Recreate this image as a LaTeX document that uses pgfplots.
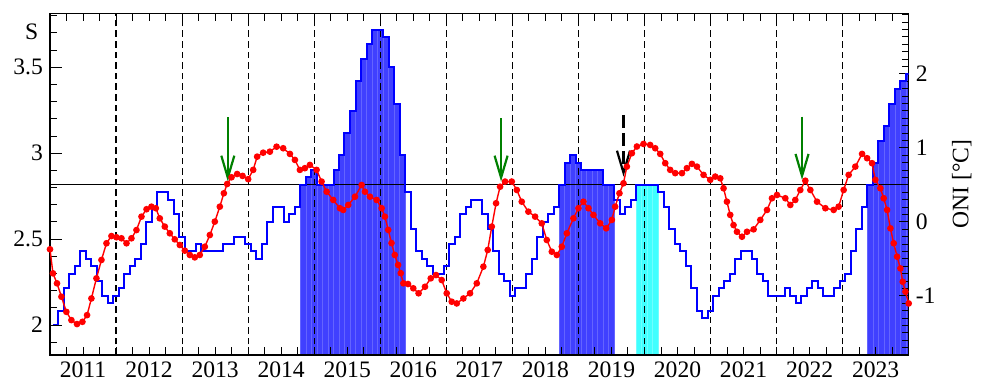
\documentclass[border=0pt]{standalone}
\usepackage{fontspec}
\setmainfont{Liberation Serif}
\usepackage{pgfplots}
\pgfplotsset{compat=1.18}
\usepackage{pgfplotstable}
\usetikzlibrary{arrows.meta}

\definecolor{barblue}{RGB}{64,64,255}
\definecolor{barstripe}{RGB}{100,100,255}
\definecolor{barcyan}{RGB}{64,255,255}
\definecolor{cyanstripe}{RGB}{110,255,255}
\definecolor{arrgreen}{RGB}{0,128,0}

\newcommand\ff{\fontsize{11.8}{13}\selectfont}

\pgfplotstableread{
x oni
2011.042 -1.4
2011.125 -1.2
2011.208 -0.9
2011.292 -0.7
2011.375 -0.6
2011.458 -0.4
2011.542 -0.5
2011.625 -0.6
2011.708 -0.8
2011.792 -1.0
2011.875 -1.1
2011.958 -1.0
2012.042 -0.9
2012.125 -0.7
2012.208 -0.6
2012.292 -0.5
2012.375 -0.3
2012.458 0.0
2012.542 0.2
2012.625 0.4
2012.708 0.4
2012.792 0.3
2012.875 0.1
2012.958 -0.2
2013.042 -0.4
2013.125 -0.4
2013.208 -0.3
2013.292 -0.4
2013.375 -0.4
2013.458 -0.4
2013.542 -0.4
2013.625 -0.3
2013.708 -0.3
2013.792 -0.2
2013.875 -0.2
2013.958 -0.3
2014.042 -0.4
2014.125 -0.5
2014.208 -0.3
2014.292 0.0
2014.375 0.2
2014.458 0.2
2014.542 0.0
2014.625 0.1
2014.708 0.2
2014.792 0.5
2014.875 0.6
2014.958 0.7
2015.042 0.5
2015.125 0.5
2015.208 0.5
2015.292 0.7
2015.375 0.9
2015.458 1.2
2015.542 1.5
2015.625 1.9
2015.708 2.2
2015.792 2.4
2015.875 2.6
2015.958 2.6
2016.042 2.5
2016.125 2.1
2016.208 1.6
2016.292 0.9
2016.375 0.4
2016.458 -0.1
2016.542 -0.4
2016.625 -0.5
2016.708 -0.6
2016.792 -0.7
2016.875 -0.7
2016.958 -0.6
2017.042 -0.3
2017.125 -0.2
2017.208 0.1
2017.292 0.2
2017.375 0.3
2017.458 0.3
2017.542 0.1
2017.625 -0.1
2017.708 -0.4
2017.792 -0.7
2017.875 -0.8
2017.958 -1.0
2018.042 -0.9
2018.125 -0.9
2018.208 -0.7
2018.292 -0.5
2018.375 -0.2
2018.458 0.0
2018.542 0.1
2018.625 0.2
2018.708 0.5
2018.792 0.8
2018.875 0.9
2018.958 0.8
2019.042 0.7
2019.125 0.7
2019.208 0.7
2019.292 0.7
2019.375 0.5
2019.458 0.5
2019.542 0.3
2019.625 0.1
2019.708 0.2
2019.792 0.3
2019.875 0.5
2019.958 0.5
2020.042 0.5
2020.125 0.5
2020.208 0.4
2020.292 0.2
2020.375 -0.1
2020.458 -0.3
2020.542 -0.4
2020.625 -0.6
2020.708 -0.9
2020.792 -1.2
2020.875 -1.3
2020.958 -1.2
2021.042 -1.0
2021.125 -0.9
2021.208 -0.8
2021.292 -0.7
2021.375 -0.5
2021.458 -0.4
2021.542 -0.4
2021.625 -0.5
2021.708 -0.7
2021.792 -0.8
2021.875 -1.0
2021.958 -1.0
2022.042 -1.0
2022.125 -0.9
2022.208 -1.0
2022.292 -1.1
2022.375 -1.0
2022.458 -0.9
2022.542 -0.8
2022.625 -0.9
2022.708 -1.0
2022.792 -1.0
2022.875 -0.9
2022.958 -0.8
2023.042 -0.7
2023.125 -0.4
2023.208 -0.1
2023.292 0.2
2023.375 0.5
2023.458 0.8
2023.542 1.1
2023.625 1.3
2023.708 1.6
2023.792 1.8
2023.875 1.9
2023.958 2.0
2024.042 2.0
}\onidata

\pgfplotstableread{
x s
2011.000 2.441
2011.045 2.301
2011.106 2.243
2011.173 2.165
2011.248 2.077
2011.324 2.029
2011.409 2.006
2011.491 2.019
2011.561 2.058
2011.627 2.155
2011.703 2.272
2011.779 2.379
2011.855 2.476
2011.930 2.518
2012.006 2.511
2012.082 2.505
2012.158 2.476
2012.233 2.505
2012.309 2.553
2012.385 2.631
2012.461 2.674
2012.536 2.689
2012.602 2.680
2012.662 2.621
2012.738 2.573
2012.814 2.534
2012.889 2.499
2012.965 2.466
2013.041 2.433
2013.117 2.408
2013.192 2.394
2013.268 2.408
2013.344 2.456
2013.420 2.524
2013.495 2.602
2013.571 2.689
2013.632 2.767
2013.682 2.821
2013.748 2.860
2013.833 2.879
2013.915 2.868
2014.000 2.849
2014.076 2.903
2014.136 2.980
2014.227 3.003
2014.329 3.009
2014.430 3.038
2014.530 3.029
2014.632 2.996
2014.708 2.961
2014.783 2.903
2014.859 2.913
2014.935 2.932
2015.036 2.903
2015.112 2.835
2015.188 2.776
2015.288 2.728
2015.389 2.680
2015.439 2.670
2015.515 2.699
2015.617 2.747
2015.718 2.815
2015.768 2.776
2015.844 2.747
2015.945 2.728
2016.021 2.680
2016.070 2.631
2016.120 2.554
2016.170 2.477
2016.220 2.408
2016.270 2.350
2016.310 2.302
2016.350 2.243
2016.420 2.239
2016.500 2.214
2016.580 2.185
2016.677 2.223
2016.764 2.272
2016.844 2.291
2016.930 2.262
2017.006 2.185
2017.082 2.136
2017.158 2.126
2017.258 2.155
2017.359 2.185
2017.461 2.243
2017.561 2.340
2017.627 2.437
2017.688 2.573
2017.753 2.709
2017.814 2.805
2017.889 2.835
2017.991 2.835
2018.067 2.786
2018.142 2.718
2018.242 2.660
2018.344 2.631
2018.445 2.592
2018.521 2.495
2018.597 2.427
2018.673 2.408
2018.748 2.456
2018.824 2.534
2018.924 2.621
2019.000 2.680
2019.076 2.718
2019.152 2.680
2019.227 2.641
2019.329 2.592
2019.420 2.563
2019.506 2.612
2019.556 2.689
2019.621 2.767
2019.682 2.825
2019.733 2.922
2019.809 3.000
2019.885 3.039
2019.985 3.054
2020.086 3.048
2020.162 3.029
2020.238 2.996
2020.314 2.942
2020.389 2.903
2020.465 2.884
2020.567 2.884
2020.642 2.913
2020.718 2.938
2020.794 2.922
2020.894 2.874
2020.995 2.845
2021.071 2.864
2021.147 2.854
2021.197 2.796
2021.248 2.718
2021.298 2.641
2021.348 2.582
2021.400 2.543
2021.476 2.514
2021.552 2.543
2021.652 2.557
2021.753 2.612
2021.855 2.670
2021.930 2.738
2022.006 2.757
2022.132 2.738
2022.208 2.699
2022.283 2.728
2022.359 2.786
2022.435 2.840
2022.511 2.786
2022.612 2.718
2022.738 2.680
2022.864 2.670
2022.939 2.689
2023.015 2.786
2023.091 2.874
2023.192 2.922
2023.294 2.996
2023.370 2.971
2023.445 2.942
2023.495 2.845
2023.571 2.796
2023.621 2.738
2023.673 2.670
2023.723 2.563
2023.773 2.476
2023.824 2.398
2023.874 2.330
2023.909 2.252
2023.950 2.194
2024.000 2.126
}\sdata

\pgfplotsset{
  base/.style={scale only axis, width=429.35pt, height=170.85pt,
    xmin=2011, xmax=2024},
  ticksty/.style={tick style={black, line width=0.5pt},
    axis line style={black, line width=0.7pt}},
}

\begin{document}
\begin{tikzpicture}
% El Nino bars (shifted so the bar base is the axis bottom)
\begin{axis}[base, ymin=0, ymax=4.62, hide axis]
\addplot[ybar interval, fill=barblue, draw=barstripe, line width=0.4pt,
  restrict x to domain=2014.75:2016.4]
  table[x=x, y expr=\thisrow{oni}+1.80] \onidata;
\addplot[ybar interval, fill=barblue, draw=barstripe, line width=0.4pt,
  restrict x to domain=2018.7:2019.55]
  table[x=x, y expr=\thisrow{oni}+1.80] \onidata;
\addplot[ybar interval, fill=barblue, draw=barstripe, line width=0.4pt,
  restrict x to domain=2023.35:2024.1]
  table[x=x, y expr=\thisrow{oni}+1.80] \onidata;
\addplot[ybar interval, fill=barcyan, draw=cyanstripe, line width=0.4pt,
  restrict x to domain=2019.85:2020.25]
  table[x=x, y expr=\thisrow{oni}+1.80] \onidata;
\end{axis}

% frame, x ticks, dashed year lines, threshold
\begin{axis}[base, name=ax, ymin=-1.80, ymax=2.82, ytick=\empty, ticksty,
  xtick={2011.5,2012.5,...,2023.5},
  xticklabels={2011,2012,2013,2014,2015,2016,2017,2018,2019,2020,2021,2022,2023},
  minor xtick={2011,2011.25,...,2024},
  extra x ticks={2012,2013,...,2023}, extra x tick labels={},
  extra x tick style={grid=major,
    major grid style={black, line width=0.6pt, dash pattern=on 3.3pt off 2pt}},
  xtick pos=both, xticklabel pos=lower, tick align=inside,
  major tick length=4pt, minor tick length=4pt,
  xticklabel style={font=\ff}]
\addplot[black, line width=0.6pt] coordinates {(2011,0.5) (2024,0.5)};
\end{axis}

% ONI (right axis)
\begin{axis}[base, ymin=-1.80, ymax=2.82, axis x line=none, axis y line*=right,
  ticksty, ytick={-1,0,1,2}, minor ytick={-1.8,-1.7,...,2.8},
  tick align=inside, major tick length=5pt, minor tick length=3.2pt,
  yticklabel style={font=\ff}, /pgf/number format/assume math mode=true]
\addplot[blue, line width=1pt, const plot] table[x=x, y=oni] \onidata;
\end{axis}

% S (left axis)
\begin{axis}[base, ymin=1.826, ymax=3.814, axis x line=none, axis y line*=left,
  ticksty, ytick={2,2.5,3,3.5}, minor ytick={1.9,2.0,...,3.8},
  tick align=inside, major tick length=6pt, minor tick length=3.5pt,
  yticklabel style={font=\ff}, /pgf/number format/assume math mode=true]
\addplot[red, line width=0.7pt, mark=*, mark size=1.3pt,
  mark options={solid, fill=red, draw=red}] table[x=x, y=s] \sdata;
\addplot[arrgreen, line width=1.1pt,
  -{Straight Barb[length=11pt,width=6.5pt]}]
  coordinates {(2013.692,3.209) (2013.692,2.835)};
\addplot[arrgreen, line width=1.1pt,
  -{Straight Barb[length=11pt,width=6.5pt]}]
  coordinates {(2017.829,3.203) (2017.829,2.835)};
\addplot[arrgreen, line width=1.1pt,
  -{Straight Barb[length=11pt,width=6.5pt]}]
  coordinates {(2022.385,3.213) (2022.385,2.845)};
\addplot[black, line width=1.1pt, dash pattern=on 6.5pt off 2.5pt,
  -{Straight Barb[length=11pt,width=6.5pt]}]
  coordinates {(2019.682,3.223) (2019.682,2.864)};
\end{axis}

\node[font=\ff] at ([xshift=-9.15pt,yshift=-9.45pt]ax.north west) {S};
\node[font=\ff, rotate=90] at ([xshift=26.5pt]ax.east) {ONI [°C]};
\pgfresetboundingbox
\path ([xshift=-25pt,yshift=-15.5pt]ax.south west) rectangle ([xshift=37.65pt,yshift=6.65pt]ax.north east);
\end{tikzpicture}
\end{document}
